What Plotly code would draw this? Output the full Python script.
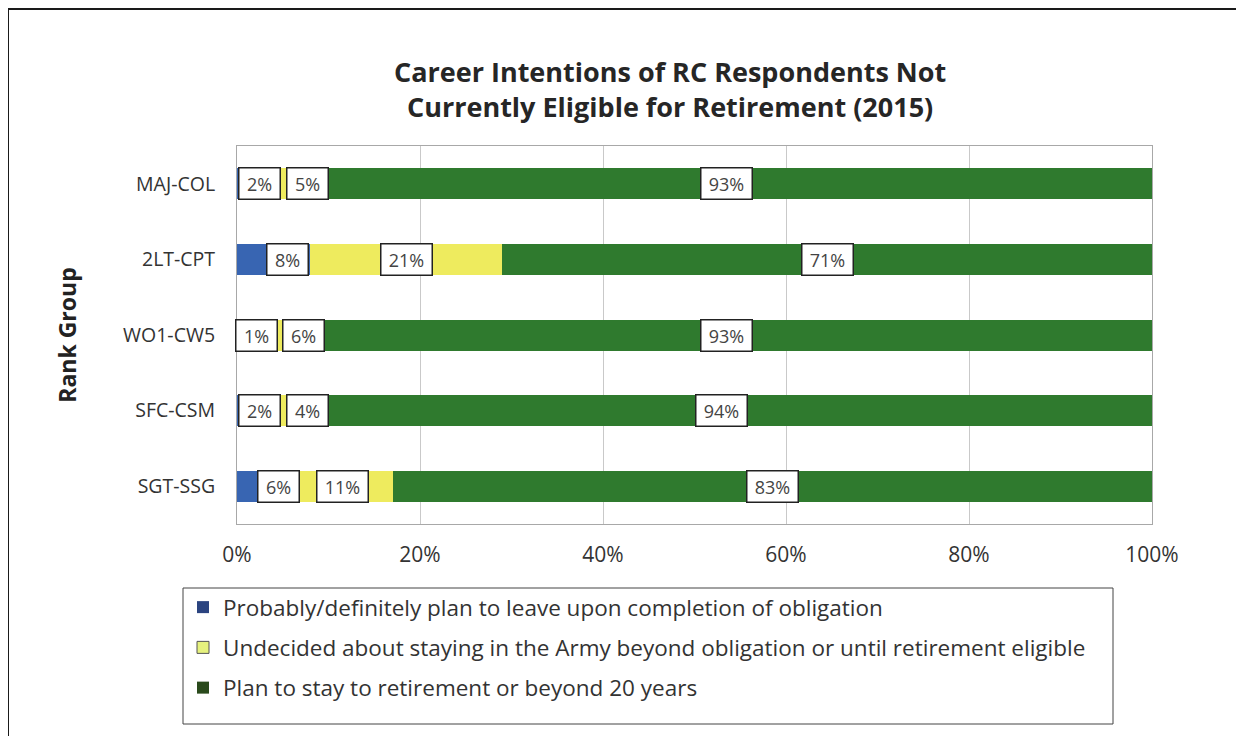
import plotly.graph_objects as go

categories = ["MAJ-COL", "2LT-CPT", "WO1-CW5", "SFC-CSM", "SGT-SSG"]
leave = [2, 8, 1, 2, 6]
undecided = [5, 21, 6, 4, 11]
stay = [93, 71, 93, 94, 83]
series_names = [
    "Probably/definitely plan to leave upon completion of obligation",
    "Undecided about staying in the Army beyond obligation or until retirement eligible",
    "Plan to stay to retirement or beyond 20 years",
]
tick_vals = [0, 20, 40, 60, 80, 100]
tick_text = ["0%", "20%", "40%", "60%", "80%", "100%"]

bar_colors = ["#3865B2", "#EEEB5E", "#2F7A2E"]
legend_colors = ["#2B4480", "#E6F27E", "#2A4A1C"]

FONT = "Open Sans, sans-serif"
OFF = 8  # page body margin
W, H = 1244, 736
# plot area in page pixels: x 237..1152, y 146..524
L = 237 - OFF
T = 146 - OFF
R = W - (1152 - OFF)
B = H - (524 - OFF)
pw, ph = W - L - R, H - T - B

def px(x):
    return (x - OFF - L) / pw

def py(y):
    return (H - B - (y - OFF)) / ph

fig = go.Figure()
series = [leave, undecided, stay]
for i, vals in enumerate(series):
    fig.add_trace(go.Bar(
        y=categories, x=vals, orientation="h", name=series_names[i],
        marker=dict(color=bar_colors[i], line=dict(width=0)),
        showlegend=False, hoverinfo="skip",
    ))
for i in range(3):
    fig.add_trace(go.Bar(
        y=[None], x=[None], orientation="h", name=series_names[i],
        marker=dict(color=legend_colors[i],
                    line=dict(width=1 if i == 1 else 0, color="#555")),
        legendgroup=f"g{i}", showlegend=True,
    ))

# data labels: centred in segment, nudged right so boxes don't overlap
annotations = []
for ci, cat in enumerate(categories):
    start = 0.0
    prev = None
    for si, vals in enumerate(series):
        v = vals[ci]
        c = start + v / 2
        if prev is None:
            c = max(c + 1.5, 2.1)
        else:
            c = max(c, prev + 5.2)
        txt = f"{v}%"
        annotations.append(dict(
            x=c, y=cat, xref="x", yref="y", text=txt, showarrow=False,
            font=dict(family=FONT, size=18, color="#444"),
            bgcolor="white", bordercolor="#222", borderwidth=1.5, borderpad=0,
            width=40 if len(txt) == 2 else 50, height=30,
        ))
        prev = c
        start += v

annotations.append(dict(
    text="<b>Career Intentions of RC Respondents Not<br>Currently Eligible for Retirement (2015)</b>",
    x=px(670), y=py(89), xref="paper", yref="paper", showarrow=False,
    xanchor="center", yanchor="middle",
    font=dict(family=FONT, size=27, color="#262626"),
    align="center",
))

shapes = [
    dict(type="line", xref="paper", yref="paper", x0=px(8), x1=px(1260), y0=py(9), y1=py(9),
         line=dict(color="#1a1a1a", width=2)),
    dict(type="line", xref="paper", yref="paper", x0=px(8), x1=px(8), y0=py(9), y1=py(760),
         line=dict(color="#1a1a1a", width=2)),
    dict(type="rect", xref="paper", yref="paper", x0=px(183), x1=px(1113), y0=py(724), y1=py(588),
         line=dict(color="#444", width=1)),
]

fig.update_layout(
    width=W, height=H,
    margin=dict(l=L, r=R, t=T, b=B),
    paper_bgcolor="white", plot_bgcolor="white",
    barmode="stack", bargap=0.59,
    font=dict(family=FONT, color="#333"),
    xaxis=dict(range=[0, 100], tickvals=tick_vals, ticktext=tick_text,
               showgrid=True, gridcolor="#c9c9c9", gridwidth=1,
               showline=True, mirror=True, linecolor="#a8a8a8", linewidth=1,
               zeroline=False, ticks="", tickfont=dict(size=21, color="#333"),
               ticklabelstandoff=12),
    yaxis=dict(categoryorder="array", categoryarray=categories, autorange="reversed",
               showline=True, mirror=True, linecolor="#a8a8a8", linewidth=1,
               showgrid=False, ticks="", tickfont=dict(size=19.5, color="#333"),
               ticklabelstandoff=17,
               title=dict(text="<b>Rank Group</b>", font=dict(size=23, color="#222"), standoff=40)),
    legend=dict(x=px(183), y=py(586), xanchor="left", yanchor="top",
                font=dict(size=22.5, color="#333"), bgcolor="rgba(0,0,0,0)",
                borderwidth=0, tracegroupgap=8, itemwidth=30,
                traceorder="grouped"),
    annotations=annotations, shapes=shapes,
)

fig.write_html("out.html")
